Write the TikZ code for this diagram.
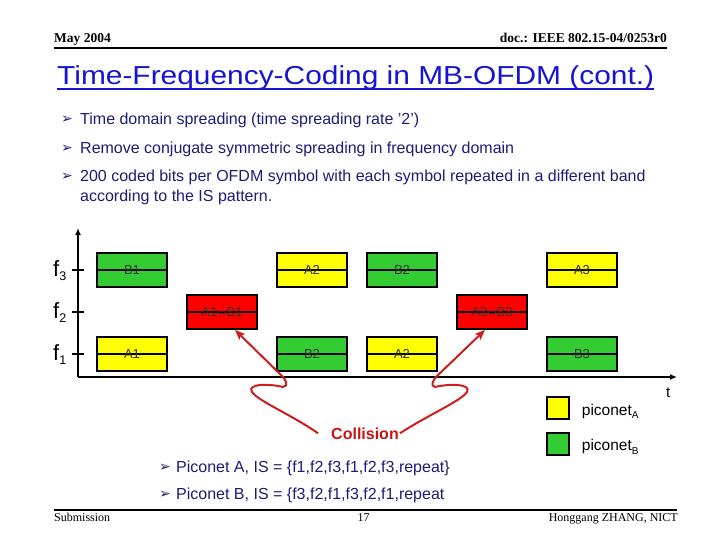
\documentclass[tikz,border=0pt]{standalone}
\usepackage{fontspec}
\setmainfont{Liberation Sans}
\newfontfamily\timesf{Liberation Serif}
\newfontfamily\dejavu{DejaVu Sans}
\usetikzlibrary{arrows.meta}
\definecolor{navy}{RGB}{28,28,120}
\definecolor{titleblue}{RGB}{20,20,210}
\definecolor{pgreen}{RGB}{51,204,51}
\definecolor{pyellow}{RGB}{255,255,0}
\definecolor{pred}{RGB}{255,0,0}
\definecolor{arrred}{RGB}{204,30,30}
\definecolor{colltext}{RGB}{200,20,20}
\begin{document}
\begin{tikzpicture}[x=1pt,y=-1pt,
  every node/.style={inner sep=0pt},
  slot/.style={draw=black, line width=1.8pt, minimum width=70pt, minimum height=34pt, inner sep=0pt,
    font=\fontsize{13}{13}\selectfont, text=black!80,
    path picture={\draw[black, line width=1.6pt] (path picture bounding box.west) -- (path picture bounding box.east);}},
  pa/.style={slot, fill=pyellow},
  pb/.style={slot, fill=pgreen},
  pc/.style={slot, fill=pred},
  bodytext/.style={anchor=base west, text=navy, font=\fontsize{16}{16}\selectfont},
  bulletmark/.style={anchor=base west, text=navy, font=\dejavu\fontsize{14}{14}\selectfont},
  hdr/.style={font=\timesf\bfseries\fontsize{13.5}{13.5}\selectfont, text=black},
  ftr/.style={font=\timesf\fontsize{12}{12}\selectfont, text=black},
  axisline/.style={draw=black, line width=2pt},
  legbox/.style={draw=black, line width=1.8pt, minimum width=22pt, minimum height=22pt},
  legtext/.style={anchor=base west, font=\fontsize{15.5}{15.5}\selectfont, text=black},
  collarrow/.style={draw=arrred, line width=2pt, -{Stealth[length=10pt,width=8pt,inset=2pt]}}
]
\useasboundingbox (0,0) rectangle (720,540);

% header
\node[hdr, anchor=base west] (hdate) at (54,42.3) {May 2004};
\node[hdr, anchor=base east] (hdoc) at (667,43) {doc.: IEEE 802.15-04/0253r0};
\draw[line width=2pt] (54,48) -- (667,48);

% title
\node[anchor=base west, text=titleblue] (title) at (57,84.3)
  {\scalebox{1.15}[1]{\fontsize{26}{26}\selectfont Time-Frequency-Coding in MB-OFDM (cont.)}};
\draw[titleblue, line width=1.8pt] ([yshift=-4.7pt]title.base west) -- ([yshift=-4.7pt]title.base east);

% bullets
\node[bulletmark] (m1) at (61,124) {➢};
\node[bodytext] (t1) at (80,125) {Time domain spreading (time spreading rate '2')};
\node[bulletmark] (m2) at (61,153) {➢};
\node[bodytext] (t2) at (80,154) {Remove conjugate symmetric spreading in frequency domain};
\node[bulletmark] (m3) at (61,181) {➢};
\node[bodytext] (t3) at (80,182) {200 coded bits per OFDM symbol with each symbol repeated in a different band};
\node[bodytext] (t4) at (80,202) {according to the IS pattern.};

% axes
\coordinate (o) at (78,377);
\coordinate (ytop) at (78,228);
\coordinate (xend) at (677,377);
\draw[axisline, -{Latex[length=7pt,width=6pt]}] (o) -- (ytop);
\draw[axisline, -{Latex[length=7pt,width=6pt]}] (o) -- (xend);
\draw[axisline] (72,270) -- (84,270);
\draw[axisline] (72,312) -- (84,312);
\draw[axisline] (72,354) -- (84,354);
\node[anchor=base west, font=\fontsize{22}{22}\selectfont] (f3) at (53,276.7) {f\raisebox{-4pt}{\fontsize{12.5}{12.5}\selectfont 3}};
\node[anchor=base west, font=\fontsize{22}{22}\selectfont] (f2) at (53,318.7) {f\raisebox{-4pt}{\fontsize{12.5}{12.5}\selectfont 2}};
\node[anchor=base west, font=\fontsize{22}{22}\selectfont] (f1) at (53,360.7) {f\raisebox{-4pt}{\fontsize{12.5}{12.5}\selectfont 1}};
\node[anchor=base west, font=\fontsize{15}{15}\selectfont] (tlab) at (666,397.3) {t};

% slots
\node[pb] (b1) at (132,270) {B1};
\node[pa] (a1) at (132,354) {A1};
\node[pc] (c1) at (222,312) {A1{\dejavu\fontsize{11}{11}\selectfont ⇔}B1};
\node[pa] (a2) at (312,270) {A2};
\node[pb] (b2) at (312,354) {B2};
\node[pb] (b2b) at (402,270) {B2};
\node[pa] (a2b) at (402,354) {A2};
\node[pc] (c3) at (492,312) {A3{\dejavu\fontsize{11}{11}\selectfont ⇔}B3};
\node[pa] (a3) at (582,270) {A3};
\node[pb] (b3) at (582,354) {B3};

% legend
\node[legbox, fill=pyellow] (lga) at (558,408) {};
\node[legbox, fill=pgreen] (lgb) at (558,444) {};
\node[legtext] (lta) at (581.7,415) {piconet\raisebox{-3.3pt}{\fontsize{10}{10}\selectfont A}};
\node[legtext] (ltb) at (581.7,450.7) {piconet\raisebox{-3.3pt}{\fontsize{10}{10}\selectfont B}};

% collision
\node[anchor=base, font=\bfseries\fontsize{16}{16}\selectfont, text=colltext, inner sep=1pt] (coll) at (365,439) {Collision};
\draw[collarrow] ([xshift=-12pt]coll.west) .. controls (292,415) and (258,401) .. (252,392)
  .. controls (246,383) and (272,384) .. (283,387)
  .. controls (289,386) and (286,380) .. (282,376) -- ([xshift=13pt]c1.south);
\draw[collarrow] (coll.east) .. controls (428,415) and (461,401) .. (467,392)
  .. controls (472,383) and (447,384) .. (435,387)
  .. controls (430,386) and (433,380) .. (437,376) -- ([xshift=-7pt]c3.south);

% bottom bullets
\node[bulletmark] (m5) at (159,471) {➢};
\node[bodytext] (t5) at (176,472.4) {Piconet A, IS = \{f1,f2,f3,f1,f2,f3,repeat\}};
\node[bulletmark] (m6) at (159,498) {➢};
\node[bodytext] (t6) at (176,499) {Piconet B, IS = \{f3,f2,f1,f3,f2,f1,repeat};

% footer
\draw[line width=2pt] (54,510) -- (677,510);
\node[ftr, anchor=base west] (fs) at (54,521) {Submission};
\node[ftr, anchor=base] (fp) at (363.5,521) {17};
\node[ftr, anchor=base east] (fa) at (678,521) {Honggang ZHANG, NICT};
\end{tikzpicture}
\end{document}
